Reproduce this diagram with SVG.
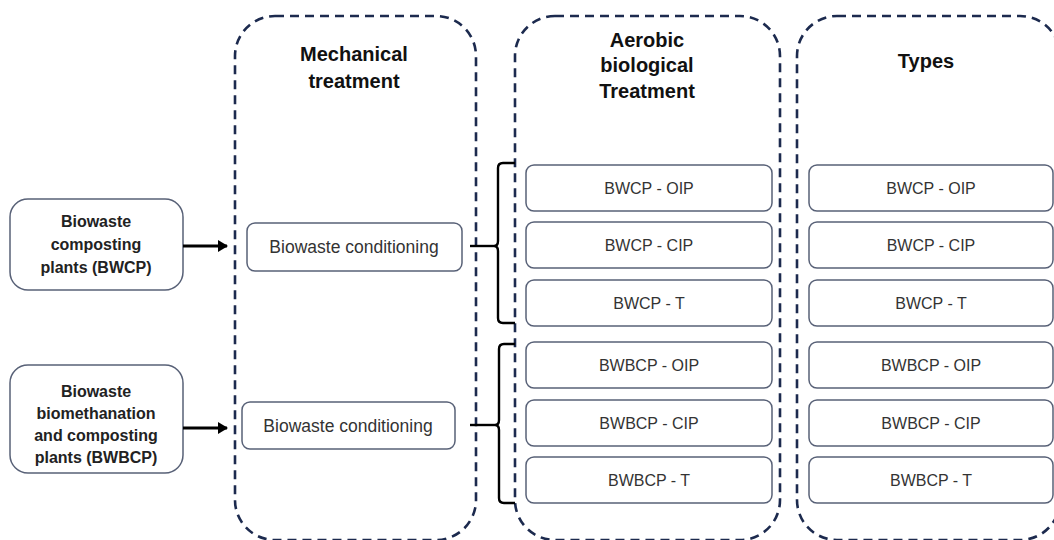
<svg xmlns="http://www.w3.org/2000/svg" width="1054" height="540" viewBox="0 0 1054 540">
<defs>
<style>
.cont{fill:none;stroke:#1c2a4e;stroke-width:2.6;stroke-dasharray:9 6}
.box{fill:#fff;stroke:#586177;stroke-width:1.5}
.src{fill:#fff;stroke:#586177;stroke-width:1.5}
.t{font-family:"Liberation Sans",Arial,sans-serif;font-size:16px;fill:#333;text-anchor:middle}
.c{font-family:"Liberation Sans",Arial,sans-serif;font-size:17.5px;fill:#333;text-anchor:middle}
.h{font-family:"Liberation Sans",Arial,sans-serif;font-size:20px;font-weight:bold;fill:#111;text-anchor:middle}
.s{font-family:"Liberation Sans",Arial,sans-serif;font-size:16px;font-weight:bold;fill:#222;text-anchor:middle}
.ln{fill:none;stroke:#000;stroke-width:2.4}
.ar{fill:none;stroke:#000;stroke-width:3}
</style>
<marker id="ah" markerWidth="12" markerHeight="12" refX="9" refY="6" orient="auto" markerUnits="userSpaceOnUse">
<path d="M0,0 L10,6 L0,12 Z" fill="#000"/>
</marker>
</defs>
<rect width="1054" height="540" fill="#fff"/>

<g id="mechanical-treatment">
<rect class="cont" x="235" y="16" width="241" height="524" rx="40"/>
<text class="h" x="354" y="61">Mechanical</text>
<text class="h" x="354" y="88">treatment</text>
</g>
<g id="aerobic-treatment">
<rect class="cont" x="515" y="16" width="265" height="524" rx="40"/>
<text class="h" x="647" y="47">Aerobic</text>
<text class="h" x="647" y="72">biological</text>
<text class="h" x="647" y="98">Treatment</text>
</g>
<g id="types">
<rect class="cont" x="797" y="16" width="263" height="524" rx="40"/>
<text class="h" x="926" y="68">Types</text>
</g>

<g id="bwcp-source">
<rect class="src" x="10" y="199" width="173" height="91" rx="18"/>
<text class="s" x="96" y="227">Biowaste</text>
<text class="s" x="96" y="250">composting</text>
<text class="s" x="96" y="273">plants (BWCP)</text>
</g>
<g id="bwbcp-source">
<rect class="src" x="10" y="365" width="173" height="108" rx="18"/>
<text class="s" x="96" y="397">Biowaste</text>
<text class="s" x="96" y="419">biomethanation</text>
<text class="s" x="96" y="441">and composting</text>
<text class="s" x="96" y="463">plants (BWBCP)</text>
</g>

<g id="conditioning-1">
<rect class="box" x="247" y="223" width="215" height="48" rx="8"/>
<text class="c" x="354" y="253">Biowaste conditioning</text>
</g>
<g id="conditioning-2">
<rect class="box" x="242" y="402" width="213" height="47" rx="8"/>
<text class="c" x="348" y="432">Biowaste conditioning</text>
</g>

<g id="aer-bwcp-oip"><rect class="box" x="526" y="165" width="246" height="46" rx="8"/><text class="t" x="649" y="194">BWCP - OIP</text></g>
<g id="aer-bwcp-cip"><rect class="box" x="526" y="222" width="246" height="46" rx="8"/><text class="t" x="649" y="251">BWCP - CIP</text></g>
<g id="aer-bwcp-t"><rect class="box" x="526" y="280" width="246" height="46" rx="8"/><text class="t" x="649" y="309">BWCP - T</text></g>
<g id="aer-bwbcp-oip"><rect class="box" x="526" y="342" width="246" height="46" rx="8"/><text class="t" x="649" y="371">BWBCP - OIP</text></g>
<g id="aer-bwbcp-cip"><rect class="box" x="526" y="400" width="246" height="46" rx="8"/><text class="t" x="649" y="429">BWBCP - CIP</text></g>
<g id="aer-bwbcp-t"><rect class="box" x="526" y="457" width="246" height="46" rx="8"/><text class="t" x="649" y="486">BWBCP - T</text></g>

<g id="type-bwcp-oip"><rect class="box" x="809" y="165" width="244" height="46" rx="8"/><text class="t" x="931" y="194">BWCP - OIP</text></g>
<g id="type-bwcp-cip"><rect class="box" x="809" y="222" width="244" height="46" rx="8"/><text class="t" x="931" y="251">BWCP - CIP</text></g>
<g id="type-bwcp-t"><rect class="box" x="809" y="280" width="244" height="46" rx="8"/><text class="t" x="931" y="309">BWCP - T</text></g>
<g id="type-bwbcp-oip"><rect class="box" x="809" y="342" width="244" height="46" rx="8"/><text class="t" x="931" y="371">BWBCP - OIP</text></g>
<g id="type-bwbcp-cip"><rect class="box" x="809" y="400" width="244" height="46" rx="8"/><text class="t" x="931" y="429">BWBCP - CIP</text></g>
<g id="type-bwbcp-t"><rect class="box" x="809" y="457" width="244" height="46" rx="8"/><text class="t" x="931" y="486">BWBCP - T</text></g>

<g id="connectors">
<line class="ar" x1="183" y1="246" x2="227" y2="246" marker-end="url(#ah)"/>
<line class="ar" x1="183" y1="428" x2="227" y2="428" marker-end="url(#ah)"/>
<line class="ln" x1="470" y1="246" x2="494" y2="246"/>
<path class="ln" d="M515,163 H503 Q498,163 498,168 V241 Q498,246 494,246 Q498,246 498,251 V318 Q498,323 503,323 H515"/>
<line class="ln" x1="470" y1="425" x2="495" y2="425"/>
<path class="ln" d="M515,344 H504 Q499,344 499,349 V420 Q499,425 495,425 Q499,425 499,430 V498 Q499,503 504,503 H515"/>
</g>
</svg>
